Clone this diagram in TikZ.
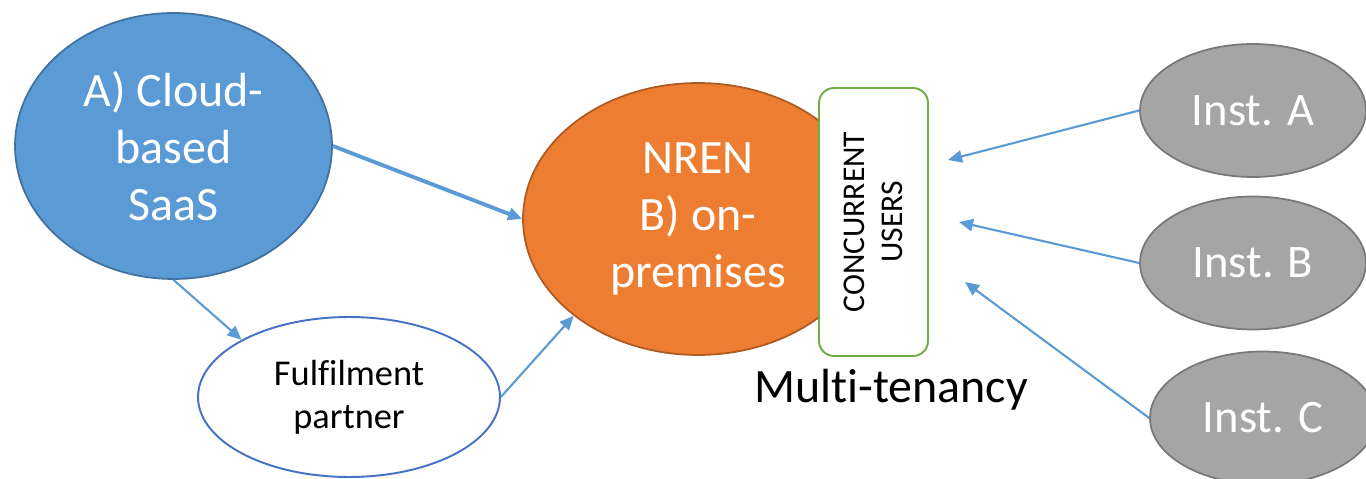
\documentclass[tikz,border=0pt]{standalone}
\usepackage{fontspec}
\setmainfont{Carlito}[Ligatures=NoCommon]
\usetikzlibrary{arrows.meta,shapes.geometric}
\definecolor{saasblue}{HTML}{5B9BD5}
\definecolor{saasedge}{HTML}{41719C}
\definecolor{nrenorange}{HTML}{ED7D31}
\definecolor{nrenedge}{HTML}{AE5A21}
\definecolor{usersgreen}{HTML}{70AD47}
\definecolor{partneredge}{HTML}{4472C4}
\definecolor{instgrey}{HTML}{A5A5A5}
\definecolor{instedge}{HTML}{787878}
\definecolor{linkblue}{HTML}{5B9BD5}
\tikzset{
	link/.style={draw=linkblue, line width=1.2pt, -{Triangle[length=8pt,width=7pt]}},
	inst/.style={ellipse, draw=instedge, fill=instgrey, line width=1pt, inner sep=0pt,
		minimum width=4.52cm, minimum height=2.66cm, text=white,
		font=\fontsize{26.5}{32}\selectfont},
}

\begin{document}
\begin{tikzpicture}[x=0.02cm, y=-0.02cm]
			%%%%% START %%%%%
			\useasboundingbox (0,0) rectangle (1366,479);
			
			\node[ellipse, draw=saasedge, fill=saasblue, line width=1pt, inner sep=0pt,
				minimum width=6.34cm, minimum height=5.32cm, text=white, align=center,
				font=\fontsize{27.3}{32.5}\selectfont] (cloud) at (173.5,146) {A) Cloud-\\based\\SaaS};
			
			\node[ellipse, draw=nrenedge, fill=nrenorange, line width=1pt, inner sep=0pt,
				minimum width=7cm, minimum height=5.44cm, text=white, align=center,
				font=\fontsize{27.3}{32.5}\selectfont] (nren) at (698,219) {NREN\\B) on-\\premises};
			
			\node[draw=usersgreen, fill=white, line width=1.1pt, rounded corners=8.5pt, rotate=90,
				minimum width=5.36cm, minimum height=2.18cm, align=center,
				font=\fontsize{18}{22}\selectfont] (users) at (873.5,222) {CONCURRENT\\USERS};
			
			\node[anchor=base, font=\fontsize{27.3}{32}\selectfont] (tenancy) at (891,403) {Multi-tenancy};
			
			\node[ellipse, draw=partneredge, fill=white, line width=1.1pt, inner sep=0pt,
				minimum width=6.04cm, minimum height=3.2cm, align=center,
				font=\fontsize{20.7}{24.5}\selectfont] (partner) at (349,397) {Fulfilment\\partner};
			
			\node[inst] (instA) at (1253,110.5) {Inst. A};
			\node[inst] (instB) at (1253,263) {Inst. B};
			\node[inst] (instC) at (1263,418) {Inst. C};
			
			\coordinate (usersA) at (948,160);
			\coordinate (usersB) at (959,222);
			\coordinate (usersC) at (965,282);
			
			\draw[link, line width=2.2pt] (cloud.east) -- (nren.west);
			\draw[link] (cloud.south) -- (partner.north west);
			\draw[link] (partner.east) -- (nren.south west);
			
			\draw[link] (instA.west) -- (usersA);
			\draw[link] (instB.west) -- (usersB);
			\draw[link] (instC.west) -- (usersC);
			
			%%%%% END %%%%%
\end{tikzpicture}
\end{document}
